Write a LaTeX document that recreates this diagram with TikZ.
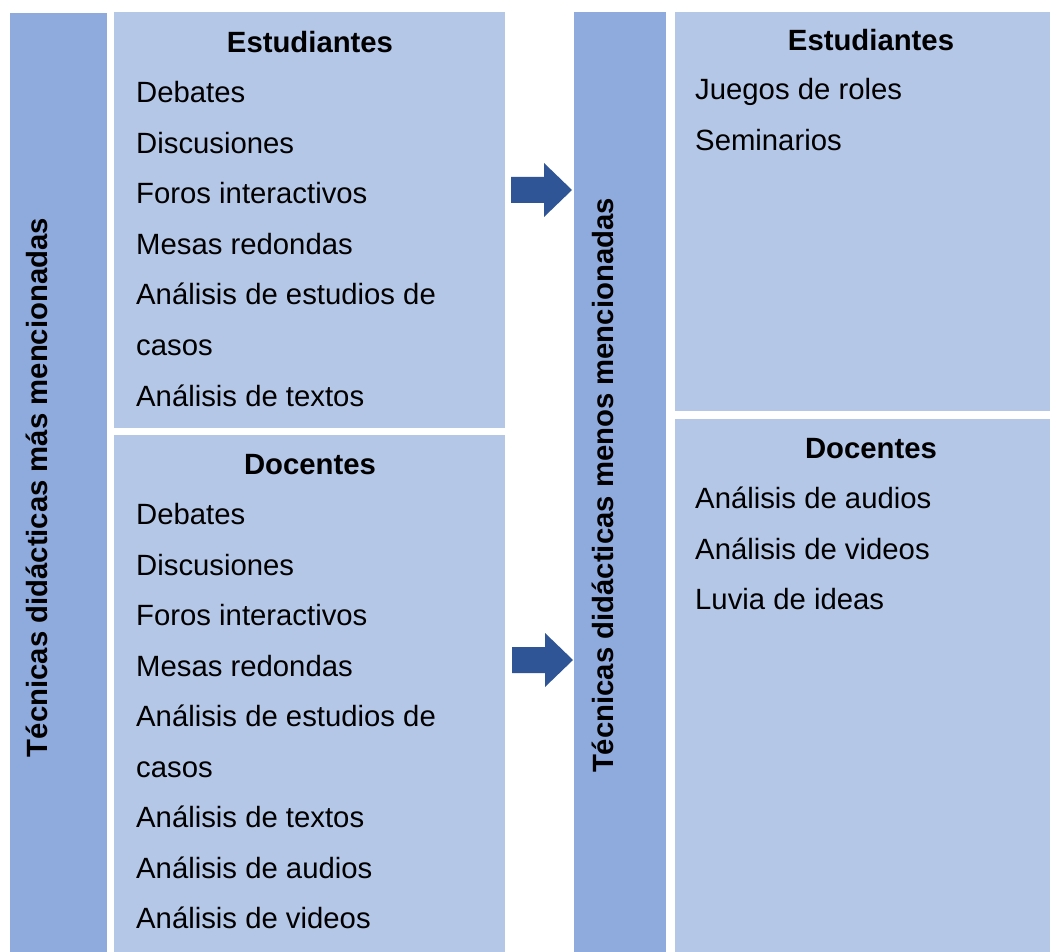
\documentclass[tikz,border=0pt]{standalone}
\usepackage{fontspec}
\setmainfont{Liberation Sans}
\definecolor{darkcol}{HTML}{8FAADC}
\definecolor{lightcol}{HTML}{B4C7E7}
\definecolor{arrowcol}{HTML}{2F5597}
\begin{document}
\begin{tikzpicture}[x=1pt,y=-1pt,
  item/.style={anchor=base west,inner sep=0pt,font=\fontsize{29.3}{34}\selectfont},
  head/.style={anchor=base,inner sep=0pt,font=\fontsize{29.3}{34}\selectfont\bfseries},
  vtext/.style={anchor=base,inner sep=0pt,rotate=90,font=\fontsize{29.3}{34}\selectfont\bfseries},
  bar/.style={fill=darkcol,draw=none},
  panel/.style={fill=lightcol,draw=none},
  blockarrow/.style={fill=arrowcol,draw=none}]
\useasboundingbox (0,0) rectangle (1050,952);
\fill[white] (0,0) rectangle (1050,952);
% columns and panels
\fill[bar] (10,13) rectangle (107,952);
\fill[panel] (114,12) rectangle (505,428);
\fill[panel] (114,435) rectangle (505,952);
\fill[bar] (574,12) rectangle (666,952);
\fill[panel] (675,12) rectangle (1050,411);
\fill[panel] (675,419) rectangle (1050,952);
% vertical titles
\node[vtext] (lt) at (47.5,487.5) {Técnicas didácticas más mencionadas};
\node[vtext] (rt) at (613.5,485.5) {Técnicas didácticas menos mencionadas};
% left top
\node[head] (h1) at (310,52.5) {Estudiantes};
\node[item] (a1) at (136,103) {Debates};
\node[item] (a2) at (136,153.5) {Discusiones};
\node[item] (a3) at (136,204) {Foros interactivos};
\node[item] (a4) at (136,254.5) {Mesas redondas};
\node[item] (a5) at (136,305) {Análisis de estudios de};
\node[item] (a6) at (136,355.5) {casos};
\node[item] (a7) at (136,406) {Análisis de textos};
% left bottom
\node[head] (h2) at (310,474) {Docentes};
\node[item] (b1) at (136,524.5) {Debates};
\node[item] (b2) at (136,575) {Discusiones};
\node[item] (b3) at (136,625.5) {Foros interactivos};
\node[item] (b4) at (136,676) {Mesas redondas};
\node[item] (b5) at (136,726.5) {Análisis de estudios de};
\node[item] (b6) at (136,777) {casos};
\node[item] (b7) at (136,827.5) {Análisis de textos};
\node[item] (b8) at (136,878) {Análisis de audios};
\node[item] (b9) at (136,928.5) {Análisis de videos};
% right top
\node[head] (h3) at (871,51) {Estudiantes};
\node[item] (c1) at (695,100) {Juegos de roles};
\node[item] (c2) at (695,150.5) {Seminarios};
% right bottom
\node[head] (h4) at (871,458) {Docentes};
\node[item] (d1) at (695,508.5) {Análisis de audios};
\node[item] (d2) at (695,559) {Análisis de videos};
\node[item] (d3) at (695,609.5) {Luvia de ideas};
% arrows
\coordinate (ar1) at (511,190);
\coordinate (ar2) at (512,660);
\fill[blockarrow] (ar1) ++(0,-13) -- ++(33,0) -- ++(0,-14) -- ++(28,27) -- ++(-28,27) -- ++(0,-14) -- ++(-33,0) -- cycle;
\fill[blockarrow] (ar2) ++(0,-13) -- ++(33,0) -- ++(0,-14) -- ++(28,27) -- ++(-28,27) -- ++(0,-14) -- ++(-33,0) -- cycle;
\end{tikzpicture}
\end{document}
